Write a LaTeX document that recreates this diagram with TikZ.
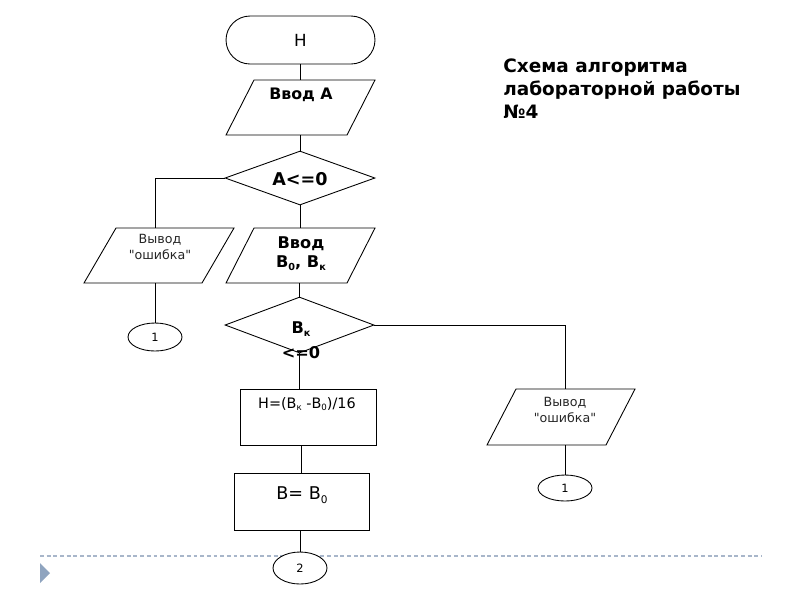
\documentclass[tikz,border=0pt]{standalone}
\usepackage{fontspec}
\setmainfont{DejaVu Sans}
\usetikzlibrary{shapes.geometric,calc}
\newcommand{\fs}[1]{\fontsize{#1}{#1}\selectfont}
\newcommand{\lowsub}[1]{\raisebox{-0.35ex}{\scalebox{0.6}{#1}}}
\definecolor{slideline}{HTML}{A8B6CA}
\definecolor{slidetri}{HTML}{8FA4BF}
\newcommand{\pgram}[6]{% name, x1, x2, y1, y2, slant
  \draw[flow] (#2+#6,#4) -- (#3,#4) -- (#3-#6,#5) -- (#2,#5) -- cycle;
  \coordinate (#1-n) at ({(#2+#3)/2},#4);
  \coordinate (#1-s) at ({(#2+#3)/2},#5);
}
\begin{document}
\begin{tikzpicture}[x=0.02cm,y=-0.02cm,
  flow/.style={draw=black,line width=0.5pt},
  link/.style={draw=black,line width=0.5pt},
  lbl/.style={inner sep=0pt,align=center,font=\fs{8.5pt}},
  small/.style={inner sep=0pt,align=center,font=\fs{7.2pt},text=black!85},
  term/.style={flow,rounded corners=0.48cm,minimum width=2.98cm,minimum height=0.96cm,inner sep=0pt},
  dia/.style={flow,diamond,inner sep=0pt},
  proc/.style={flow,rectangle,inner sep=0pt},
  conn/.style={flow,ellipse,fill=white,inner sep=0pt,font=\fs{6.5pt}}]
\useasboundingbox (0,0) rectangle (800,600);

% slide decoration
\draw[slideline,line width=0.6pt,dash pattern=on 2.2pt off 1.6pt] (40,556) -- (762,556);
\fill[slidetri] (40,563) -- (50,573) -- (40,583) -- cycle;

% start
\node[term] (start) at (300.5,40) {};
\node[lbl,font=\fs{9.5pt}] (startt) at (300.5,40) {Н};

% input A
\pgram{inA}{226}{375}{80}{135}{28}
\node[lbl,font=\fs{9pt}\bfseries] (inAt) at (301,95) {Ввод А};

% decision A<=0
\node[dia,minimum width=3cm,minimum height=1.08cm] (d1) at (300,178) {};
\node[lbl,font=\fs{10pt}\bfseries] (d1t) at (300,179) {А<=0};

% left output error
\pgram{outL}{84}{234}{228}{283}{32}
\node[small] (outLt) at (160,247) {Вывод\\[1.5pt]\textquotedbl ошибка\textquotedbl};

% input B0, Bk
\pgram{inB}{226}{375}{228}{283}{28}
\node[lbl,font=\fs{9.2pt}\bfseries] (inBt) at (301,254) {Ввод\\[1.5pt]В\lowsub{0}, В\lowsub{к}};

% connector 1 left
\node[conn,minimum width=1.08cm,minimum height=0.56cm] (c1) at (155,337) {1};

% decision Bk<=0
\node[dia,minimum width=2.98cm,minimum height=1.12cm] (d2) at (299.5,325) {};
\node[lbl,font=\fs{9.2pt}\bfseries] (d2t) at (301,340) {В\lowsub{к}\\[5pt]<=0};

% right output error
\pgram{outR}{487}{635}{389}{445}{29}
\node[small] (outRt) at (565,410) {Вывод\\[1.5pt]\textquotedbl ошибка\textquotedbl};
\node[conn,minimum width=1.08cm,minimum height=0.52cm] (c2) at (565,488) {1};

% process H
\node[proc,minimum width=2.72cm,minimum height=1.12cm] (r1) at (308,417) {};
\node[lbl,font=\fs{8.2pt}] (r1t) at (307,404) {Н=(В\lowsub{к} -В\lowsub{0})/16};

% process B=B0
\node[proc,minimum width=2.7cm,minimum height=1.14cm] (r2) at (301.5,501.5) {};
\node[lbl,font=\fs{10pt}] (r2t) at (302,495) {В= В\lowsub{0}};

% connector 2
\node[conn,minimum width=1.08cm,minimum height=0.64cm] (c3) at (300,568) {2};

% connectors
\draw[link] (start.south) -- (start.south |- inA-n);
\draw[link] (inA-s -| d1.north) -- (d1.north);
\draw[link] (d1.west) -| (c1.north |- outL-n);
\draw[link] (d1.south) -- (d1.south |- inB-n);
\draw[link] (c1.north |- outL-s) -- (c1.north);
\draw[link] (inB-s -| d2.north) -- (d2.north);
\draw[link] (d2.east) -| (c2.north |- outR-n);
\draw[link] (d2.south) -- (d2.south |- r1.north);
\draw[link] (r1.south -| r2.north) -- (r2.north);
\draw[link] (r2.south -| c3.north) -- (c3.north);
\draw[link] (c2.north |- outR-s) -- (c2.north);

% title
\node[anchor=base west,align=left,inner sep=0pt,font=\fs{10.5pt}\bfseries,
  execute at begin node={\baselineskip=13pt}] (title) at (503,118)
  {Схема алгоритма\\лабораторной работы\\№4};
\end{tikzpicture}
\end{document}
